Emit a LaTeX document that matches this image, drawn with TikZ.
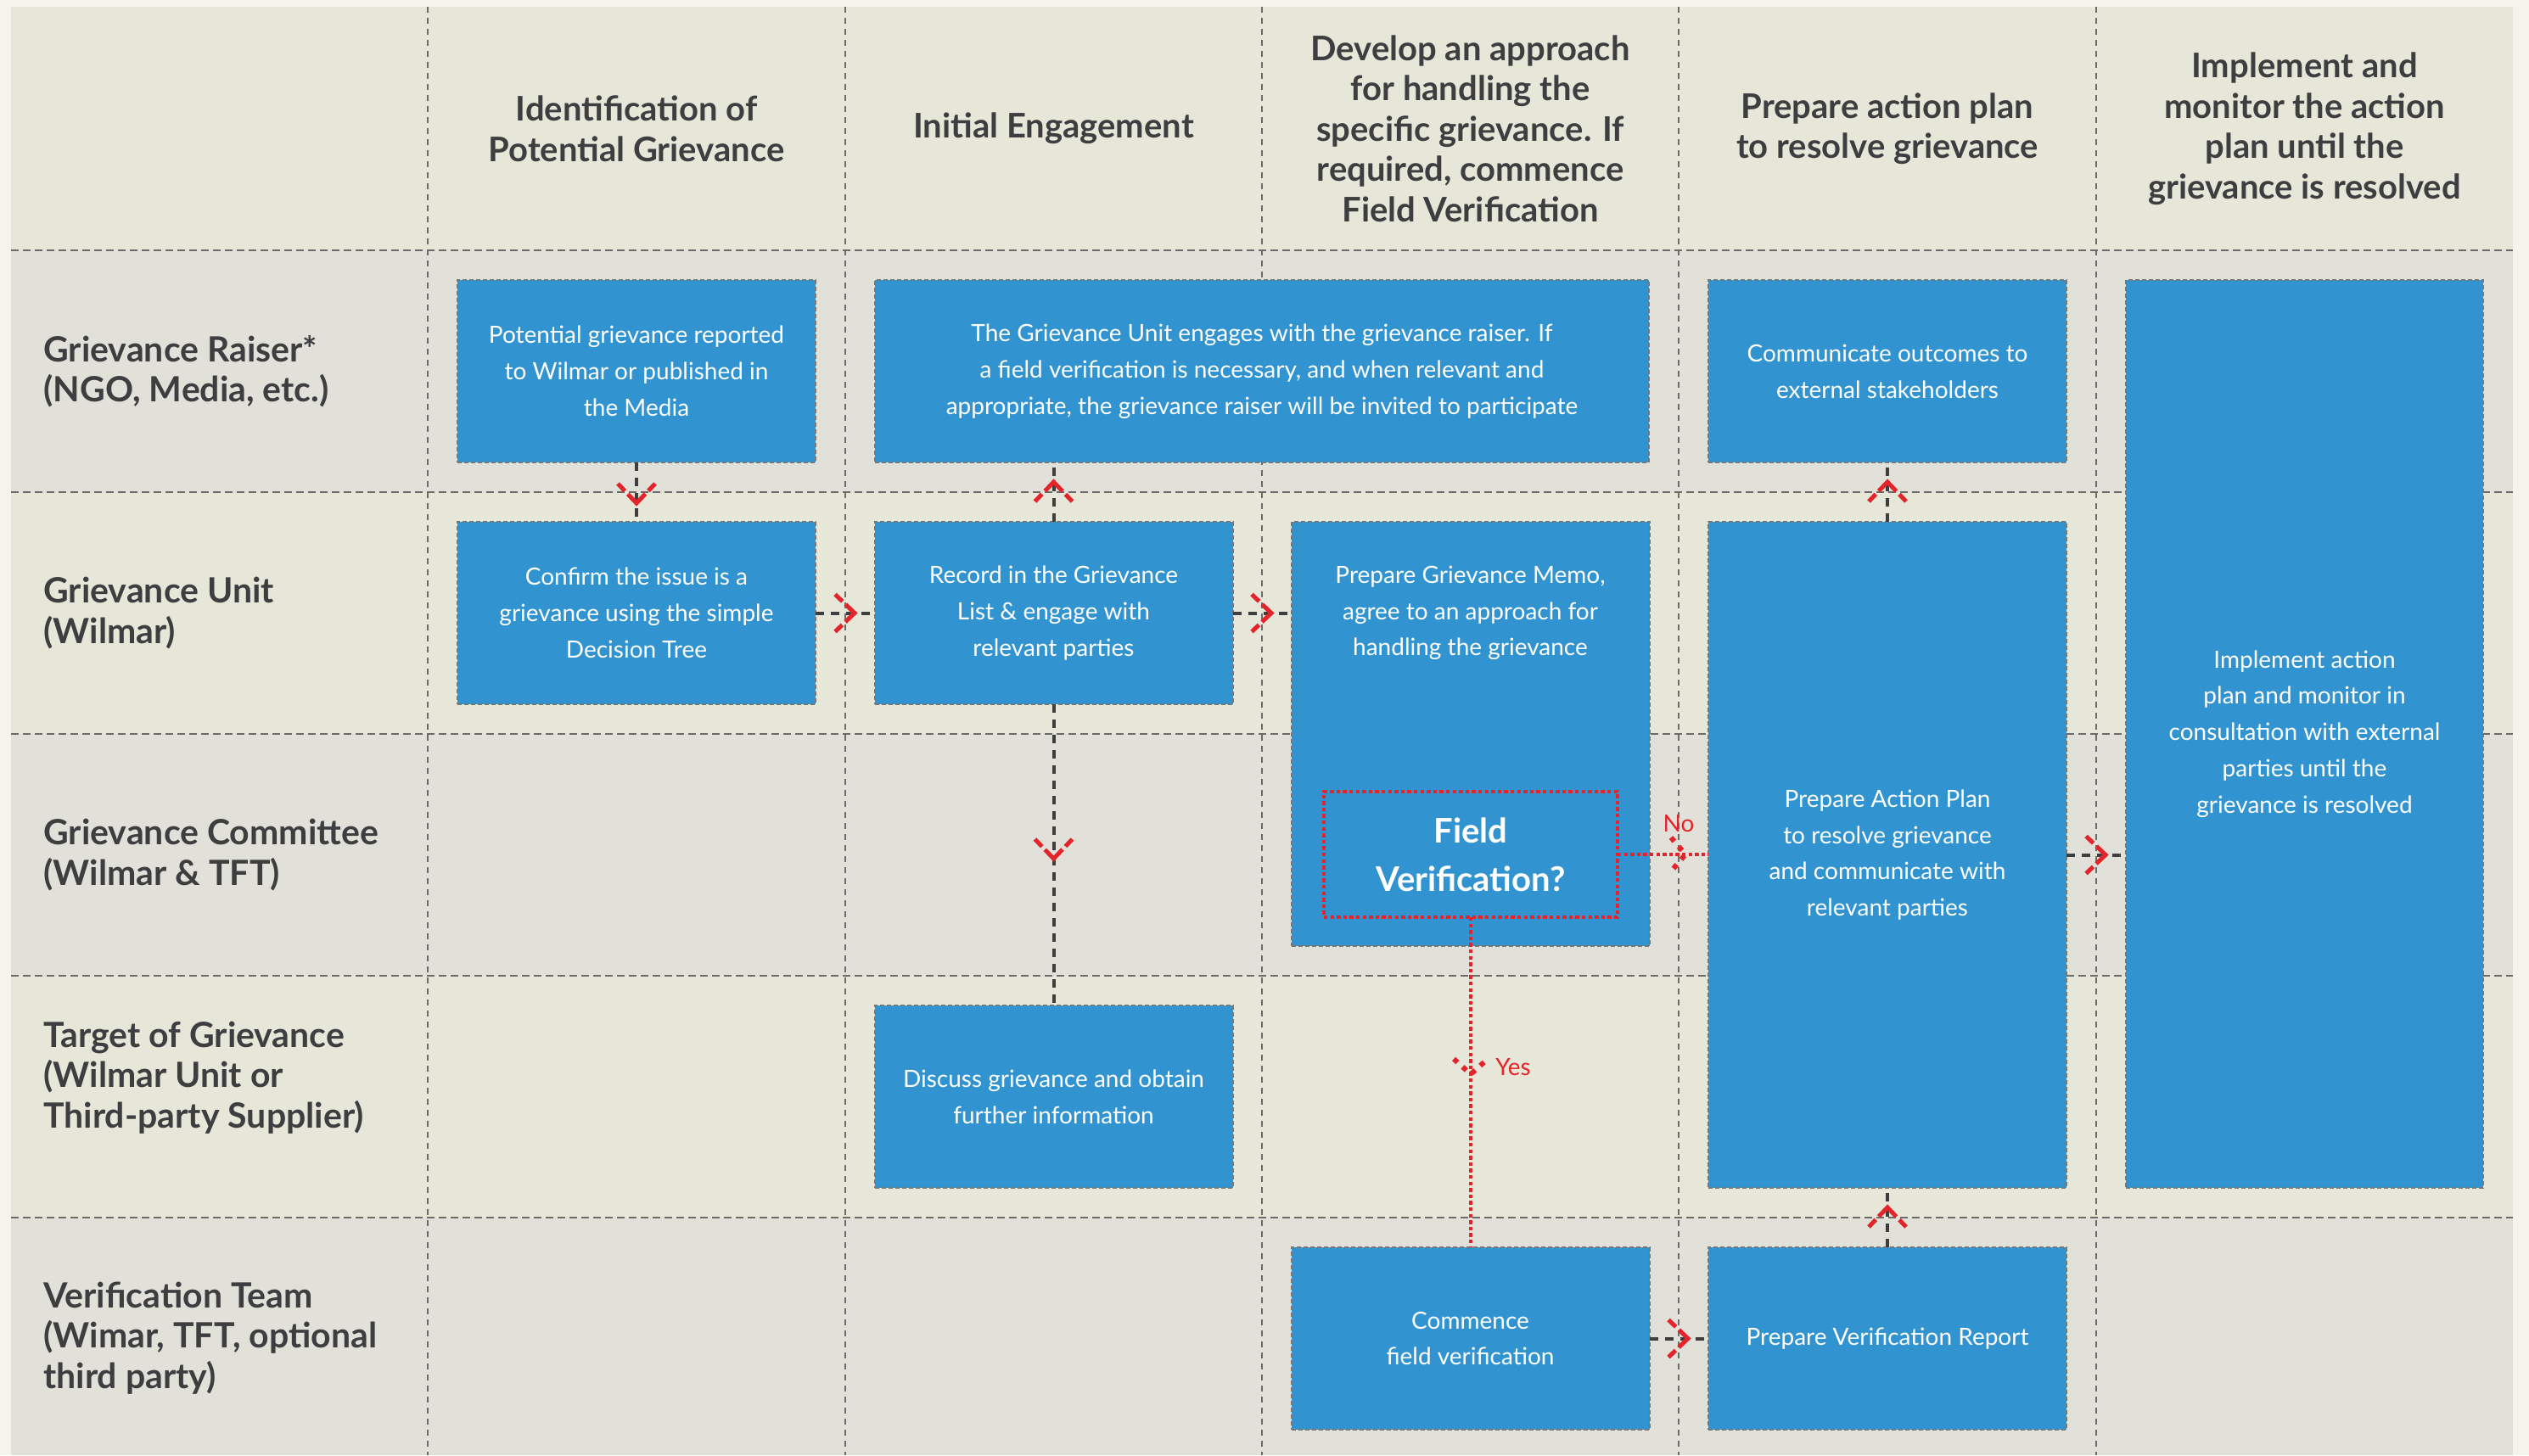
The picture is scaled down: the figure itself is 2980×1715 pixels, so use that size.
\documentclass[tikz,border=0pt]{standalone}
\usepackage{fontspec}
\setmainfont{Lato}
\definecolor{pagebg}{HTML}{F4F4EC}
\definecolor{creamrow}{HTML}{E6E7D9}
\definecolor{greyrow}{HTML}{E1E1DA}
\definecolor{gridc}{HTML}{6B6B6B}
\definecolor{boxblue}{HTML}{3194D0}
\definecolor{boxline}{HTML}{777777}
\definecolor{conncol}{HTML}{3E3E3E}
\definecolor{redc}{HTML}{E3242B}
\definecolor{headtext}{HTML}{3E3E41}
\begin{document}
\begin{tikzpicture}[x=0.5pt,y=-0.5pt,
  vgrid/.style={draw=gridc, line width=1.2pt, dash pattern=on 3.5pt off 3pt},
  hgrid/.style={draw=gridc, line width=1.4pt, dash pattern=on 4.5pt off 2.5pt},
  box/.style={draw=boxline, line width=1pt, dash pattern=on 2.5pt off 1.5pt, fill=boxblue,
    inner sep=0pt, outer sep=0pt, text=white, align=center,
    font=\fontsize{14}{21.4}\selectfont},
  boxtext/.style={text=white, align=center, inner sep=0pt, font=\fontsize{14}{21.4}\selectfont},
  fvbox/.style={draw=redc, line width=2pt, dash pattern=on 2.2pt off 1.6pt,
    inner sep=0pt, outer sep=0pt, text=white, align=center,
    minimum width=173pt, minimum height=74pt,
    font=\bfseries\fontsize{20}{28.5}\selectfont},
  header/.style={text=headtext, align=center, inner sep=0pt, font=\bfseries\fontsize{20}{23.75}\selectfont},
  rowlab/.style={text=headtext, align=left, anchor=west, inner sep=0pt, font=\bfseries\fontsize{20.5}{23.75}\selectfont},
  conn/.style={draw=conncol, line width=2pt, dash pattern=on 5pt off 4pt},
  chev/.style={draw=redc, line width=2.5pt, line join=miter,
    dash pattern=on 6pt off 2.5pt on 15pt off 2.5pt on 6pt off 0pt},
  reddot/.style={draw=redc, line width=2pt, dash pattern=on 2.2pt off 1.6pt},
  rchev/.style={draw=redc, line width=3pt, dash pattern=on 3pt off 4pt},
  redlab/.style={text=redc, inner sep=0pt, font=\fontsize{14}{16}\selectfont},
  chevR/.pic={\path[chev] (-23,-22) -- (0,0) -- (-23,22);},
  chevD/.pic={\path[chev] (-22,-23) -- (0,0) -- (22,-23);},
  chevU/.pic={\path[chev] (-22,23) -- (0,0) -- (22,23);},
  rchevR/.pic={\path[rchev] (-17,-20) -- (0,0) -- (-17,20);},
  rchevD/.pic={\path[rchev] (-20,-18) -- (0,0) -- (20,-18);}
]
\useasboundingbox (0,0) rectangle (2980,1715);
% backgrounds
\fill[pagebg] (0,0) rectangle (2980,1715);
\fill[creamrow] (13,8) rectangle (2961,295);
\fill[greyrow] (13,295) rectangle (2961,580);
\fill[creamrow] (13,580) rectangle (2961,865);
\fill[greyrow] (13,865) rectangle (2961,1150);
\fill[creamrow] (13,1150) rectangle (2961,1435);
\fill[greyrow] (13,1435) rectangle (2961,1715);
% grid
\foreach \x in {504,996,1487,1978,2470} \draw[vgrid] (\x,8) -- (\x,1715);
\foreach \y in {295,580,865,1150,1435} \draw[hgrid] (13,\y) -- (2961,\y);

% headers
\node[header] (h1) at (750,151.5) {Identification of\\Potential Grievance};
\node[header] (h2) at (1241.5,151.5) {Initial Engagement};
\node[header] (h3) at (1732.5,151.5) {Develop an approach\\for handling the\\specific grievance. If\\required, commence\\Field Verification};
\node[header] (h4) at (2224,151.5) {Prepare action plan\\to resolve grievance};
\node[header] (h5) at (2715.5,151.5) {Implement and\\monitor the action\\plan until the\\grievance is resolved};

% row labels
\node[rowlab] (l1) at (51,437.5) {Grievance Raiser*\\(NGO, Media, etc.)};
\node[rowlab] (l2) at (51,722.5) {Grievance Unit\\(Wilmar)};
\node[rowlab] (l3) at (51,1007.5) {Grievance Committee\\(Wilmar \& TFT)};
\node[rowlab] (l4) at (51,1270) {Target of Grievance\\(Wilmar Unit or\\Third-party Supplier)};
\node[rowlab] (l5) at (51,1577) {Verification Team\\(Wimar, TFT, optional\\third party)};

% boxes
\node[box, minimum width=211pt, minimum height=107.5pt] (b11) at (750,437.5) {Potential grievance reported\\to Wilmar or published in\\the Media};
\node[box, minimum width=456pt, minimum height=107.5pt] (b12) at (1487,437.5) {The Grievance Unit engages with the grievance raiser. If\\a field verification is necessary, and when relevant and\\appropriate, the grievance raiser will be invited to participate};
\node[box, minimum width=211pt, minimum height=107.5pt] (b14) at (2224,437.5) {Communicate outcomes to\\external stakeholders};
\node[box, minimum width=210.5pt, minimum height=535pt] (b15) at (2715.5,865) {Implement action\\plan and monitor in\\consultation with external\\parties until the\\grievance is resolved};
\node[box, minimum width=211pt, minimum height=107.5pt] (b21) at (750,722.5) {Confirm the issue is a\\grievance using the simple\\Decision Tree};
\node[box, minimum width=211pt, minimum height=107.5pt] (b22) at (1241.5,722.5) {Record in the Grievance\\List \& engage with\\relevant parties};
\node[box, minimum width=211pt, minimum height=250pt] (b23) at (1732.5,865) {};
\node[boxtext] (b23t) at (1732.5,722.5) {Prepare Grievance Memo,\\agree to an approach for\\handling the grievance};
\node[box, minimum width=211pt, minimum height=392.5pt] (b24) at (2224,1007.5) {Prepare Action Plan\\to resolve grievance\\and communicate with\\relevant parties};
\node[box, minimum width=211pt, minimum height=107.5pt] (b42) at (1241.5,1292.5) {Discuss grievance and obtain\\further information};
\node[box, minimum width=211pt, minimum height=107.5pt] (b53) at (1732.5,1577.5) {Commence\\field verification};
\node[box, minimum width=211pt, minimum height=107.5pt] (b54) at (2224,1577.5) {Prepare Verification Report};
\node[fvbox] (fv) at (1733,1007) {Field\\Verification?};

% connectors
\draw[conn] (b11.south) -- (b21.north);
\pic at (750,593) {chevD};
\draw[conn] (b21.east) -- (b22.west);
\pic at (1007,722.5) {chevR};
\draw[conn] (b22.north) -- (b22.north |- b12.south);
\pic at (1241.5,568) {chevU};
\draw[conn] (b22.east) -- (b22.east -| b23.west);
\pic at (1498,722.5) {chevR};
\draw[conn] (b22.south) -- (b42.north);
\pic at (1241.5,1012) {chevD};
\draw[conn] (b53.east) -- (b54.west);
\pic at (1989,1577.5) {chevR};
\draw[conn] (b54.north) -- (b24.south);
\pic at (2224,1423) {chevU};
\draw[conn] (b24.north) -- (b14.south);
\pic at (2224,568) {chevU};
\draw[conn] (b24.east) -- (b24.east -| b15.west);
\pic at (2481,1007.5) {chevR};

% decision branches
\draw[reddot] (fv.east) -- (fv.east -| b24.west);
\pic at (1986,1007) {rchevR};
\node[redlab] (no) at (1978,971) {No};
\draw[reddot] (fv.south) -- (fv.south |- b53.north);
\pic at (1733,1266) {rchevD};
\node[redlab, anchor=west] (yes) at (1762,1258) {Yes};
\end{tikzpicture}
\end{document}
